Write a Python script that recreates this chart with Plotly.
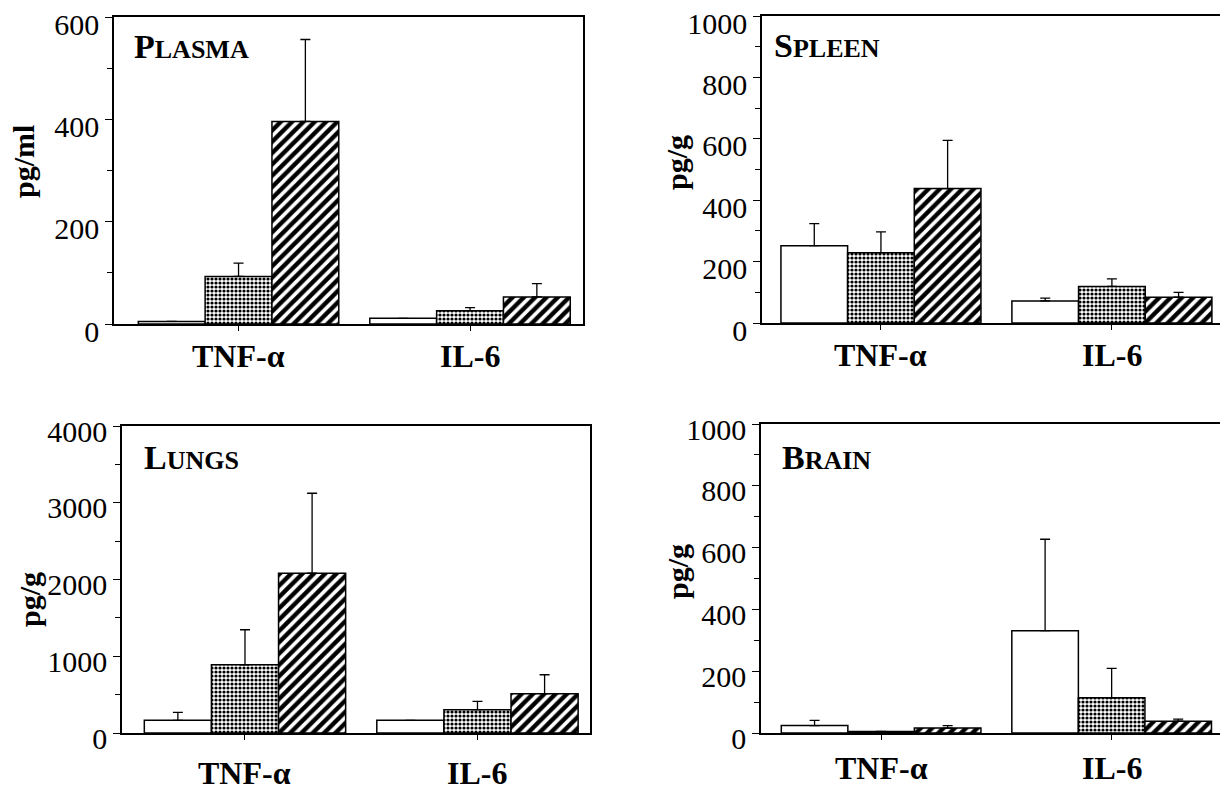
import plotly.graph_objects as go

W, H = 1228, 794
OFF = 8  # the page body margin shifts the figure by this many pixels

categories = ["TNF-α", "IL-6"]
groups = ["control", "stippled", "hatched"]

# Panel data: means and upper error (SEM) per group, per category
plasma_means = {"control": [5, 11], "stippled": [93, 26], "hatched": [396, 53]}
plasma_err = {"control": [0, 0], "stippled": [26, 6], "hatched": [160, 26]}

spleen_means = {"control": [252, 72], "stippled": [229, 119], "hatched": [438, 84]}
spleen_err = {"control": [72, 9], "stippled": [68, 25], "hatched": [157, 16]}

lungs_means = {"control": [165, 165], "stippled": [889, 304], "hatched": [2082, 512]}
lungs_err = {"control": [104, 0], "stippled": [456, 108], "hatched": [1042, 247]}

brain_means = {"control": [24, 331], "stippled": [5, 114], "hatched": [16, 38]}
brain_err = {"control": [17, 296], "stippled": [0, 95], "hatched": [8, 7]}

panel_titles = [("P", "LASMA"), ("S", "PLEEN"), ("L", "UNGS"), ("B", "RAIN")]
y_titles = ["pg/ml", "pg/g", "pg/g", "pg/g"]
y_max = [600, 1000, 4000, 1000]
y_major = [200, 200, 1000, 200]

# layout geometry (screen pixels): left, right, top, bottom of plot area
boxes = [(114, 583, 17, 324), (762, 1226, 16, 323), (122, 590, 426, 733), (761, 1226, 424, 733)]
xranges = [(-0.538, 1.488), (-0.515, 1.494), (-0.529, 1.484), (-0.521, 1.496)]
title_pos = [(132, 47), (772, 45), (142, 457), (780, 457)]
ytitle_pos = [(24, 162), (676, 163), (29, 600), (677, 572)]
xlabel_y = [356, 355, 773, 768]
label_shift = [7, 7, 5, 5]

datasets = [(plasma_means, plasma_err), (spleen_means, spleen_err),
            (lungs_means, lungs_err), (brain_means, brain_err)]

styles = {
    "control": dict(color="white"),
    "stippled": dict(color="white", pattern=dict(shape=".", fgcolor="black", bgcolor="white",
                                                 size=4, solidity=0.5)),
    "hatched": dict(color="white", pattern=dict(shape="/", fgcolor="black", bgcolor="white",
                                                size=8, solidity=0.55)),
}

FONT = "Liberation Serif"


def px(x):
    return (x - OFF) / W


def py(y):
    return 1 - (y - OFF) / H


fig = go.Figure()

for i, (means, errs) in enumerate(datasets):
    k = "" if i == 0 else str(i + 1)
    for g in groups:
        fig.add_trace(go.Bar(
            x=categories, y=means[g], name=g, showlegend=False,
            xaxis="x" + k, yaxis="y" + k, offsetgroup=g,
            marker=dict(line=dict(color="black", width=1.5), **styles[g]),
            error_y=dict(type="data", array=errs[g], arrayminus=[0] * len(errs[g]),
                         symmetric=False, color="black", thickness=1.3, width=5),
        ))
    l, r, t, b = boxes[i]
    fig.layout["xaxis" + k] = dict(
        domain=[px(l), px(r)], anchor="y" + k, range=list(xranges[i]),
        showline=True, linecolor="black", linewidth=1.5, mirror=True,
        ticks="outside", ticklen=5, tickcolor="black", tickwidth=1,
        showticklabels=False, automargin=False,
        showgrid=False, zeroline=False, fixedrange=True,
    )
    fig.layout["yaxis" + k] = dict(
        domain=[py(b), py(t)], anchor="x" + k, range=[0, y_max[i]],
        tickmode="linear", tick0=0, dtick=y_major[i],
        showline=True, linecolor="black", linewidth=1.5, mirror=True,
        ticks="outside", ticklen=7, tickcolor="black", tickwidth=1.2,
        minor=dict(ticks="outside", ticklen=5, tickcolor="black", dtick=y_major[i] / 2, showgrid=False),
        tickfont=dict(family=FONT, size=30, color="black"),
        ticklabelshift=label_shift[i], ticklabeloverflow="allow",
        automargin=False, showgrid=False, zeroline=False, fixedrange=True,
    )
    # category labels placed at the category positions of the x axis
    for c in categories:
        fig.add_annotation(
            x=c, xref="x" + k, y=py(xlabel_y[i]), yref="paper",
            xanchor="center", yanchor="middle", showarrow=False,
            text=f"<b>{c}</b>", font=dict(family=FONT, size=32, color="black"),
        )
    big, small = panel_titles[i]
    tx, ty = title_pos[i]
    fig.add_annotation(
        x=px(tx), y=py(ty), xref="paper", yref="paper", xanchor="left", yanchor="middle",
        text=f"<b>{big}<span style='font-size:26px'>{small}</span></b>",
        showarrow=False, font=dict(family=FONT, size=34, color="black"),
    )
    yx, yy = ytitle_pos[i]
    fig.add_annotation(
        x=px(yx), y=py(yy), xref="paper", yref="paper", xanchor="center", yanchor="middle",
        text=f"<b>{y_titles[i]}</b>", textangle=-90,
        showarrow=False, font=dict(family=FONT, size=30, color="black"),
    )

fig.update_layout(
    template="none",
    width=W, height=H, margin=dict(l=0, r=0, t=0, b=0, autoexpand=False),
    font=dict(family=FONT, color="black"),
    paper_bgcolor="white", plot_bgcolor="white",
    barmode="group", bargap=0.134, bargroupgap=0,
    showlegend=False,
)

fig.write_html("out.html", config={"displayModeBar": False})
